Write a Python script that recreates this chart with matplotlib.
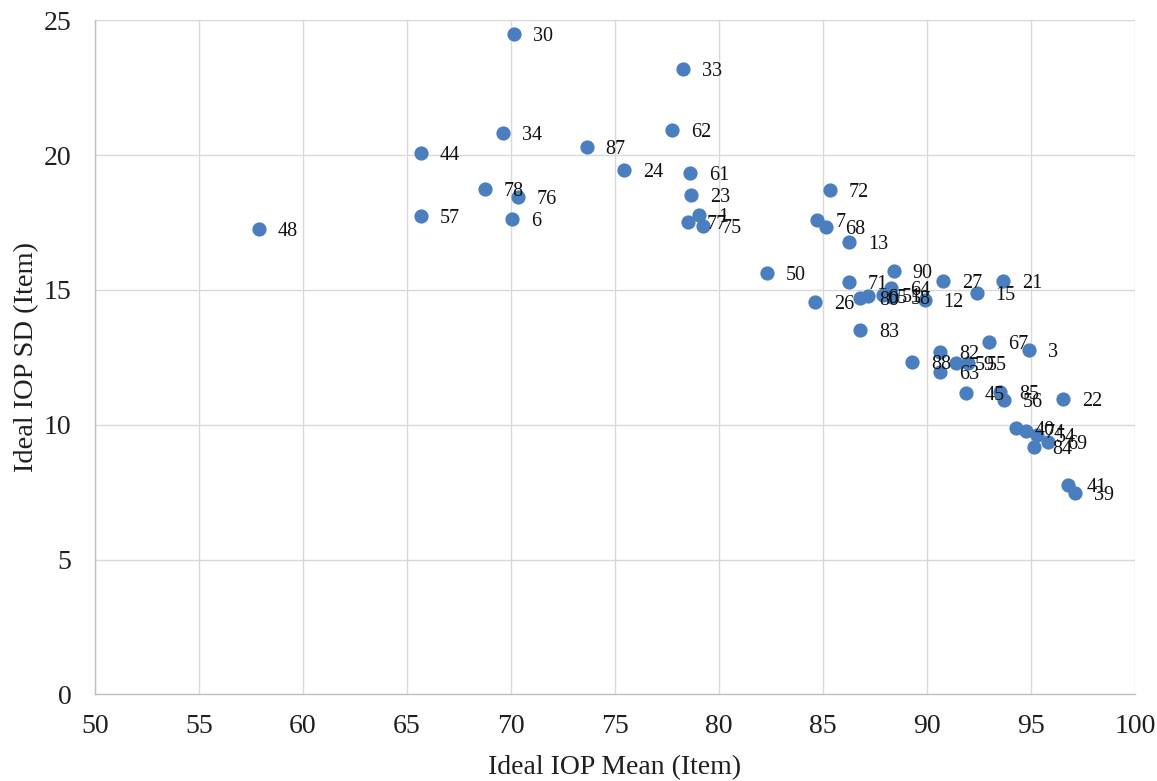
import matplotlib
matplotlib.use("Agg")
import matplotlib.pyplot as plt

plt.rcParams['font.family'] = ['Liberation Serif', 'DejaVu Serif']

# item numbers with their ideal IOP mean / SD
items = ['30', '33', '34', '44', '87', '62', '24', '61', '23', '72',
         '78', '76', '57', '6', '48', '1', '77', '75', '7', '68',
         '13', '50', '71', '26', '90', '80', '65', '51', '64', '58',
         '12', '83', '27', '15', '21', '67', '3', '88', '82', '63',
         '59', '55', '45', '85', '56', '22', '40', '74', '54', '84',
         '69', '41', '39']
iop_mean = [70.14, 78.27, 69.62, 65.67, 73.65, 77.74, 75.43, 78.61, 78.65, 85.34,
            68.75, 70.34, 65.67, 70.05, 57.88, 79.04, 78.51, 79.23, 84.71, 85.14,
            86.25, 82.31, 86.25, 84.62, 88.41, 86.78, 87.16, 87.88, 88.27, 88.32,
            89.90, 86.78, 90.77, 92.40, 93.65, 92.98, 94.90, 89.28, 90.63, 90.63,
            91.39, 91.97, 91.88, 93.51, 93.70, 96.54, 94.28, 94.76, 95.29, 95.14,
            95.82, 96.78, 97.12]
iop_sd = [24.48, 23.18, 20.81, 20.07, 20.29, 20.92, 19.44, 19.32, 18.51, 18.69,
          18.73, 18.43, 17.73, 17.62, 17.25, 17.77, 17.51, 17.36, 17.58, 17.32,
          16.77, 15.62, 15.28, 14.54, 15.69, 14.69, 14.76, 14.80, 15.06, 14.73,
          14.61, 13.50, 15.32, 14.87, 15.32, 13.06, 12.76, 12.31, 12.69, 11.94,
          12.28, 12.28, 11.16, 11.20, 10.91, 10.94, 9.87, 9.76, 9.61, 9.16,
          9.35, 7.75, 7.46]

fig = plt.figure(figsize=(11.57, 7.81), dpi=100)
ax = fig.add_axes([0.082, 0.111, 0.899, 0.863])

ax.scatter(iop_mean, iop_sd, s=105, color='#4A7EBF', zorder=3, linewidths=0)

for lab, x, y in zip(items, iop_mean, iop_sd):
    ax.annotate(lab, (x, y), xytext=(13.5, -1.5), textcoords='offset points',
                va='center', ha='left', fontsize=14.5, color='#111111', zorder=4)

ax.set_xlim(50, 100)
ax.set_ylim(0, 25)
ax.set_xticks(range(50, 101, 5))
ax.set_yticks(range(0, 26, 5))
ax.grid(True, color='#d9d9d9', linewidth=1, zorder=0)
ax.set_axisbelow(True)
for side in ['top', 'right']:
    ax.spines[side].set_visible(False)
for side in ['left', 'bottom']:
    ax.spines[side].set_color('#bfbfbf')
    ax.spines[side].set_linewidth(1)
ax.tick_params(axis='y', length=0, labelsize=20, colors='#1f1f1f', pad=17)
ax.tick_params(axis='x', length=0, labelsize=20, colors='#1f1f1f', pad=14)

ax.set_xlabel('Ideal IOP Mean (Item)', fontsize=20, color='#1f1f1f', labelpad=12)
ax.set_ylabel('Ideal IOP SD (Item)', fontsize=20.5, color='#1f1f1f', labelpad=3)

fig.savefig('out.png', dpi=100)
